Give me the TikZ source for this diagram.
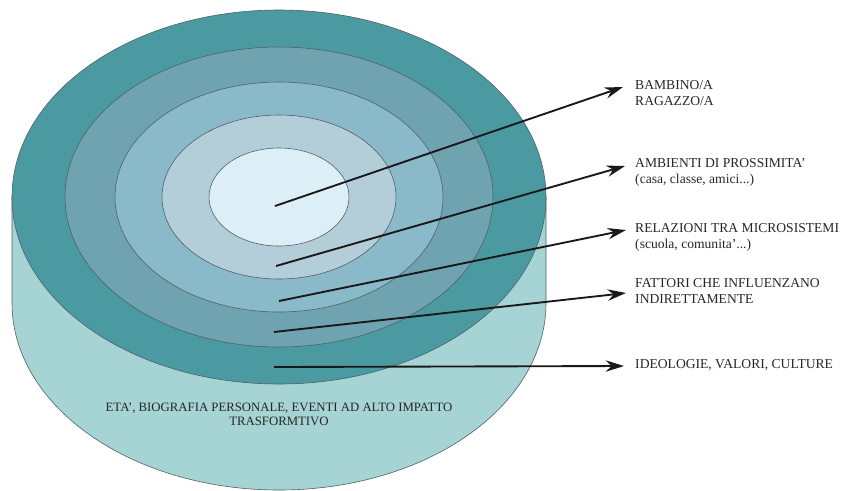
\documentclass[tikz,border=0pt]{standalone}
\usepackage{fontspec}
\setmainfont{Liberation Serif}
\usetikzlibrary{arrows.meta}

\definecolor{sidecol}{HTML}{A6D3D3}
\definecolor{ringA}{HTML}{4B9AA2}
\definecolor{ringB}{HTML}{6FA3B0}
\definecolor{ringC}{HTML}{8AB9C9}
\definecolor{ringD}{HTML}{B3CED8}
\definecolor{ringE}{HTML}{DDEFF6}
\definecolor{edgecol}{HTML}{4F5F66}

\begin{document}
\begin{tikzpicture}[x=0.03cm, y=-0.03cm,
    ring/.style={draw=edgecol, line width=0.5pt},
    pointer/.style={-{Stealth[length=5.5mm, width=3.4mm, inset=1.8mm]}, line width=1.6pt, black!90},
    ringlabel/.style={anchor=north west, align=left, inner sep=0pt,
        font=\fontsize{11.6}{14}\selectfont, text=black!85}]
            \useasboundingbox (0,0) rectangle (842,490);

            % cylinder body
            \draw[ring, fill=sidecol] (12,197) -- (12,303)
                arc[start angle=180, end angle=0, x radius=267, y radius=187]
                -- (546,197) -- cycle;

            % top rings
            \draw[ring, fill=ringA] (279,197) ellipse [x radius=267, y radius=187];
            \draw[ring, fill=ringB] (279,197) ellipse [x radius=214, y radius=150];
            \draw[ring, fill=ringC] (279,197) ellipse [x radius=164, y radius=115];
            \draw[ring, fill=ringD] (279,197) ellipse [x radius=117, y radius=82];
            \draw[ring, fill=ringE] (279,197) ellipse [x radius=70, y radius=49];

            \coordinate (s1) at (275,206);
            \coordinate (s2) at (276,266);
            \coordinate (s3) at (279,301);
            \coordinate (s4) at (274,332);
            \coordinate (s5) at (274,367);
            \coordinate (e1) at (623,87);
            \coordinate (e2) at (625,166);
            \coordinate (e3) at (626,230);
            \coordinate (e4) at (626,293);
            \coordinate (e5) at (624,366);

            \node[ringlabel] (L1) at (635,80) {BAMBINO/A\\RAGAZZO/A};
            \node[ringlabel] (L2) at (635,158) {AMBIENTI DI PROSSIMITA'\\(casa, classe, amici...)};
            \node[ringlabel] (L3) at (635,223) {RELAZIONI TRA MICROSISTEMI\\(scuola, comunita'...)};
            \node[ringlabel] (L4) at (635,278) {FATTORI CHE INFLUENZANO\\INDIRETTAMENTE};
            \node[ringlabel] (L5) at (635,359) {IDEOLOGIE, VALORI, CULTURE};

            \node[anchor=north, align=center, inner sep=0pt,
                font=\fontsize{10.9}{11.5}\selectfont, text=black!85] (T) at (279,403)
                {ETA', BIOGRAFIA PERSONALE, EVENTI AD ALTO IMPATTO\\TRASFORMTIVO};

            \draw[pointer] (s1) -- (e1);
            \draw[pointer] (s2) -- (e2);
            \draw[pointer] (s3) -- (e3);
            \draw[pointer] (s4) -- (e4);
            \draw[pointer] (s5) -- (e5);
        \end{tikzpicture}
\end{document}
